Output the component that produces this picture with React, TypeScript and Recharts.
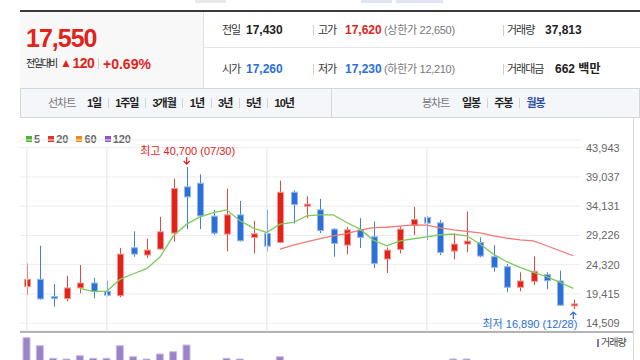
import {
  ComposedChart,
  BarChart,
  Bar,
  Line,
  XAxis,
  YAxis,
  CartesianGrid,
  ReferenceLine,
  ReferenceDot,
} from 'recharts'

// monthly candles, 2020.07 - 2023.12
const MONTHS = [
  '20.07', '20.08', '20.09', '20.10', '20.11', '20.12',
  '21.01', '21.02', '21.03', '21.04', '21.05', '21.06', '21.07', '21.08', '21.09', '21.10', '21.11', '21.12',
  '22.01', '22.02', '22.03', '22.04', '22.05', '22.06', '22.07', '22.08', '22.09', '22.10', '22.11', '22.12',
  '23.01', '23.02', '23.03', '23.04', '23.05', '23.06', '23.07', '23.08', '23.09', '23.10', '23.11', '23.12',
]
const OPEN = [
  20640, 21870, 18970, 18630, 20420, 21250, 19860, 19130, 27160, 25940, 26940, 29620, 37370, 37980,
  32460, 29450, 32680, 28890, 29560, 28050, 36470, 34240, 33520, 30280, 27610, 30120, 29000, 25270,
  26880, 30900, 32240, 31340, 26600, 27780, 28050, 25660, 23980, 20530, 21530, 22650, 21590, 17520,
]
const HIGH = [
  24540, 27500, 21090, 22480, 24260, 22090, 21640, 27110, 29900, 28720, 32350, 38760, 40700, 39480,
  33520, 37090, 35020, 31680, 33570, 38420, 36810, 35800, 35360, 30450, 30670, 32120, 31570, 27220,
  30670, 34020, 32510, 31790, 29560, 33240, 28890, 27610, 24430, 23040, 25710, 23040, 23320, 18460,
]
const LOW = [
  19300, 18410, 17290, 18190, 19520, 18690, 18970, 18860, 25660, 25430, 26880, 28170, 30280, 30280,
  29340, 26550, 28220, 26210, 26550, 27940, 31230, 32120, 29620, 25660, 26050, 27110, 23760, 22930,
  26210, 29280, 28450, 25940, 25210, 26380, 25550, 23150, 19690, 19860, 20920, 20190, 17460, 16890,
]
const CLOSE = [
  21870, 18580, 18630, 20420, 21250, 19800, 19190, 26100, 26100, 26770, 29840, 37090, 35690, 32510,
  29620, 32680, 28330, 29500, 27440, 36470, 34410, 34470, 30060, 27890, 30170, 28890, 24540, 26770,
  30280, 31900, 31290, 26380, 27780, 28280, 25770, 23870, 20530, 21590, 23200, 21640, 17520, 17740,
]
const MA5 = [
  null, null, null, null, 20300, 19850, 19850, 21850, 22800, 23650, 25600, 29170, 31120, 32350,
  33070, 33520, 31680, 30450, 29730, 31120, 31400, 32510, 32680, 32680, 31400, 30280, 28450, 27500,
  28330, 28670, 29000, 29340, 29450, 29170, 27780, 26100, 24820, 23870, 23040, 22310, 21360, 20360,
]
const MA20 = [
  null, null, null, null, null, null, null, null, null, null, null, null, null, null,
  null, null, null, null, null, 26940, 27600, 28150, 28700, 29150, 29550, 30100, 30550, 30600,
  30800, 31000, 30950, 30500, 30150, 29900, 29670, 29170, 28780, 28500, 28330, 27500, 26660, 25820,
]
const VOLUME = [
  3115000, 2715000, 2085000, 2050000, 2215000, 2085000, 2085000, 2715000, 2165000, 2050000, 2300000,
  2415000, 2750000, 1850000, 1720000, 2085000, 2050000, 1640000, 1580000, 2165000, 1720000, 1460000,
  1530000, 1390000, 1310000, 1250000, 1680000, 1420000, 1560000, 1610000, 1480000, 1870000, 2050000,
  2050000, 1520000, 1430000, 1760000, 1350000, 1490000, 1280000, 1650000, 1210000,
]
const PRICE_TICKS = [14509, 19415, 24320, 29226, 34131, 39037, 43943]
const YEAR_MARKS = ['20.07', '21.01', '22.01', '23.01']
const MA_LEGEND = [
  { label: '5', color: '#4cb52f' },
  { label: '20', color: '#e3342f' },
  { label: '60', color: '#f28a1a' },
  { label: '120', color: '#8f55cc' },
]
const LINE_TABS = ['1일', '1주일', '3개월', '1년', '3년', '5년', '10년']
const CANDLE_TABS = ['일봉', '주봉', '월봉']
const HIGH_MARK = { month: '21.07', value: 40700, date: '07/30' }
const LOW_MARK = { month: '23.12', value: 16890, date: '12/28' }

const FONT = '"Liberation Sans", Arial, "Noto Sans CJK KR", sans-serif'
const RED = '#e2231a'
const BLUE = '#2c6fd9'
const GRID = '#ececec'

const rows = MONTHS.map((m, i) => ({
  m,
  range: [LOW[i], HIGH[i]],
  open: OPEN[i],
  close: CLOSE[i],
  ma5: MA5[i],
  ma20: MA20[i],
  vol: VOLUME[i],
}))

const fmt = (v: number) => v.toLocaleString('en-US')

function Candle(props: any) {
  const { x, y, width, height, payload } = props
  const [low, high] = payload.range
  const top = Math.min(y, y + height)
  const h = Math.abs(height)
  const k = high > low ? h / (high - low) : 0
  const cx = Math.round(x + width / 2) + 0.5
  const up = payload.close >= payload.open
  const yo = top + (high - payload.open) * k
  const yc = top + (high - payload.close) * k
  const bTop = Math.min(yo, yc)
  const bH = Math.max(Math.abs(yo - yc), 2)
  return (
    <g>
      <line x1={cx} x2={cx} y1={top} y2={top + h} stroke={up ? '#e9463e' : '#3f7fe2'} strokeWidth={1} />
      <rect
        x={cx - 3}
        y={bTop}
        width={6}
        height={bH}
        fill={up ? RED : BLUE}
        stroke={up ? '#f29894' : '#93b8ef'}
        strokeWidth={1}
      />
    </g>
  )
}

function HighMark({ cx, cy }: any) {
  return (
    <g>
      <text x={cx + 1} y={cy - 12} textAnchor="middle" fontSize={11} fill={RED} fontFamily={FONT}>
        {`최고 ${fmt(HIGH_MARK.value)} (${HIGH_MARK.date})`}
      </text>
      <path d={`M${cx} ${cy - 10}V${cy - 3}M${cx - 3} ${cy - 6}L${cx} ${cy - 3}L${cx + 3} ${cy - 6}`} stroke={RED} fill="none" strokeWidth={1.2} />
    </g>
  )
}

function LowMark({ cx, cy }: any) {
  return (
    <g>
      <path d={`M${cx} ${cy + 10}V${cy + 3}M${cx - 3} ${cy + 6}L${cx} ${cy + 3}L${cx + 3} ${cy + 6}`} stroke={BLUE} fill="none" strokeWidth={1.2} />
      <text x={cx + 4} y={cy + 19} textAnchor="end" fontSize={11} fill={BLUE} fontFamily={FONT}>
        {`최저 ${fmt(LOW_MARK.value)} (${LOW_MARK.date})`}
      </text>
    </g>
  )
}

function Header() {
  const abs = (left: number, top: number, extra: any = {}) => ({
    position: 'absolute' as const, left, top, whiteSpace: 'nowrap' as const, ...extra,
  })
  const lab = { fontSize: 11, color: '#333', lineHeight: '16px', letterSpacing: -1 }
  const num = { fontSize: 12, fontWeight: 700, color: '#222', lineHeight: '16px' }
  const sub = { fontSize: 11, color: '#777', lineHeight: '16px', letterSpacing: -0.3 }
  const sep = (left: number, top: number) => (
    <div style={{ position: 'absolute', left, top, width: 1, height: 11, background: '#cfcfcf' }} />
  )
  return (
    <>
      <div style={{ position: 'absolute', left: 195, top: 0, width: 31, height: 3, background: '#e9e9e9' }} />
      <div style={{ position: 'absolute', left: 361, top: 0, width: 31, height: 3, background: '#dfe5f2' }} />
      <div style={{ position: 'absolute', left: 396, top: 0, width: 47, height: 3, background: '#dfe5f2' }} />
      <div style={{ position: 'absolute', left: 20, right: 0, top: 10, height: 2, background: '#3b3b3b' }} />
      <div style={{ position: 'absolute', left: 20, top: 12, width: 183, height: 76, background: '#f8f8f8', borderRight: '1px solid #e2e2e2' }} />
      <div style={{ position: 'absolute', left: 204, right: 0, top: 47, height: 1, background: '#e6e6e6' }} />

      <div style={abs(26, 23, { fontSize: 25, fontWeight: 700, color: RED, lineHeight: '30px', letterSpacing: -1 })}>17,550</div>
      <div style={abs(26, 57, { fontSize: 10, color: '#222', lineHeight: '14px', letterSpacing: -1.5 })}>전일대비</div>
      <div style={abs(60, 54, { display: 'flex', alignItems: 'center', fontSize: 14, fontWeight: 700, color: RED, lineHeight: '18px', letterSpacing: -0.5 })}>
        <span style={{ fontSize: 12, marginRight: 1 }}>▲</span>120
      </div>
      <div style={{ position: 'absolute', left: 98, top: 58, width: 1, height: 11, background: '#d0d0d0' }} />
      <div style={abs(103, 55, { fontSize: 14, fontWeight: 700, color: RED, lineHeight: '18px' })}>+0.69%</div>

      <div style={abs(222, 22, lab)}>전일</div>
      <div style={abs(246, 22, num)}>17,430</div>
      {sep(313, 25)}
      <div style={abs(318, 22, lab)}>고가</div>
      <div style={abs(345, 22, { ...num, color: RED })}>17,620</div>
      <div style={abs(384, 22, sub)}>(상한가 22,650)</div>
      {sep(503, 25)}
      <div style={abs(507, 22, lab)}>거래량</div>
      <div style={abs(545, 22, num)}>37,813</div>

      <div style={abs(222, 61, lab)}>시가</div>
      <div style={abs(246, 61, { ...num, color: BLUE })}>17,260</div>
      {sep(313, 64)}
      <div style={abs(318, 61, lab)}>저가</div>
      <div style={abs(345, 61, { ...num, color: BLUE })}>17,230</div>
      <div style={abs(384, 61, sub)}>(하한가 12,210)</div>
      {sep(503, 64)}
      <div style={abs(507, 61, lab)}>거래대금</div>
      <div style={abs(555, 61, num)}>662 백만</div>
    </>
  )
}

function TabBar() {
  const item = (t: string, i: number, active = false) => (
    <span key={t} style={{ display: 'flex', alignItems: 'center' }}>
      {i > 0 && <span style={{ width: 1, height: 10, background: '#d3d3d3' }} />}
      <span style={{ padding: '0 6.5px', fontWeight: 700, color: active ? '#2b4ea3' : '#222' }}>{t}</span>
    </span>
  )
  return (
    <div style={{ position: 'absolute', left: 20, top: 88, width: 618, height: 28, border: '1px solid #d6d6d6', background: '#f5f6fa', fontSize: 11, letterSpacing: -1, lineHeight: '28px' }}>
      <div style={{ position: 'absolute', left: 27, top: 0, display: 'flex' }}>
        <span style={{ color: '#777', marginRight: 5 }}>선차트</span>
        {LINE_TABS.map((t, i) => item(t, i))}
      </div>
      <div style={{ position: 'absolute', left: 310, top: -1, width: 1, height: 30, background: '#d6d6d6' }} />
      <div style={{ position: 'absolute', left: 401, top: 0, display: 'flex' }}>
        <span style={{ color: '#777', marginRight: 6 }}>봉차트</span>
        {CANDLE_TABS.map((t, i) => item(t, i, t === '월봉'))}
      </div>
    </div>
  )
}

export default function App() {
  return (
    <div style={{ position: 'fixed', left: 0, top: 0, width: 640, height: 360, overflow: 'hidden', background: '#fff', fontFamily: FONT }}>
      <Header />
      <TabBar />

      <div style={{ position: 'absolute', left: 26, top: 132, display: 'flex', fontSize: 11, fontWeight: 700, color: '#666', lineHeight: '14px' }}>
        {MA_LEGEND.map(l => (
          <span key={l.label} style={{ display: 'flex', alignItems: 'center', marginRight: 8 }}>
            <span style={{ width: 6, height: 6, background: l.color, marginRight: 2 }} />
            {l.label}
          </span>
        ))}
      </div>

      <div style={{ position: 'absolute', left: 0, top: 120 }}>
        <ComposedChart width={640} height={215} data={rows} margin={{ top: 20, right: 0, bottom: 4, left: 20 }}>
          <CartesianGrid stroke={GRID} vertical={false} />
          <XAxis dataKey="m" hide />
          <YAxis
            orientation="right"
            domain={[13200, 45235]}
            ticks={PRICE_TICKS}
            allowDataOverflow
            width={60}
            axisLine={false}
            tickLine={false}
            tickSize={0}
            tickMargin={6}
            tick={{ fontSize: 11, fill: '#666', fontFamily: FONT }}
            tickFormatter={fmt}
          />
          {YEAR_MARKS.map(m => (
            <ReferenceLine key={m} segment={[{ x: m, y: 43943 }, { x: m, y: 13200 }]} stroke={GRID} strokeWidth={1.5} />
          ))}
          <Bar dataKey="range" shape={<Candle />} isAnimationActive={false} />
          <Line dataKey="ma20" stroke="#f07a76" strokeWidth={1.3} dot={false} isAnimationActive={false} />
          <Line dataKey="ma5" stroke="#7ccb5c" strokeWidth={1.3} dot={false} isAnimationActive={false} />
          <ReferenceDot x={HIGH_MARK.month} y={HIGH_MARK.value} shape={(p: any) => <HighMark {...p} />} />
          <ReferenceDot x={LOW_MARK.month} y={LOW_MARK.value} shape={(p: any) => <LowMark {...p} />} />
        </ComposedChart>
      </div>

      <div style={{ position: 'absolute', left: 20, width: 613, top: 331, height: 2, background: '#b4b4b4' }} />
      <div style={{ position: 'absolute', left: 633, top: 118, width: 1, height: 242, background: '#dadada' }} />
      <div style={{ position: 'absolute', left: 597, top: 337, display: 'flex', alignItems: 'center', fontSize: 10, color: '#444', lineHeight: '12px', letterSpacing: -1 }}>
        <span style={{ width: 2, height: 8, background: '#8d74c2', marginRight: 2 }} />
        거래량
      </div>

      <div style={{ position: 'absolute', left: 0, top: 334 }}>
        <BarChart width={640} height={66} data={rows} margin={{ top: 0, right: 60, bottom: 0, left: 20 }}>
          <XAxis dataKey="m" hide />
          <YAxis hide domain={[0, 3300000]} />
          <Bar dataKey="vol" barSize={7} fill="#9a84c7" stroke="#c8bce5" strokeWidth={1} isAnimationActive={false} />
        </BarChart>
      </div>
    </div>
  )
}
